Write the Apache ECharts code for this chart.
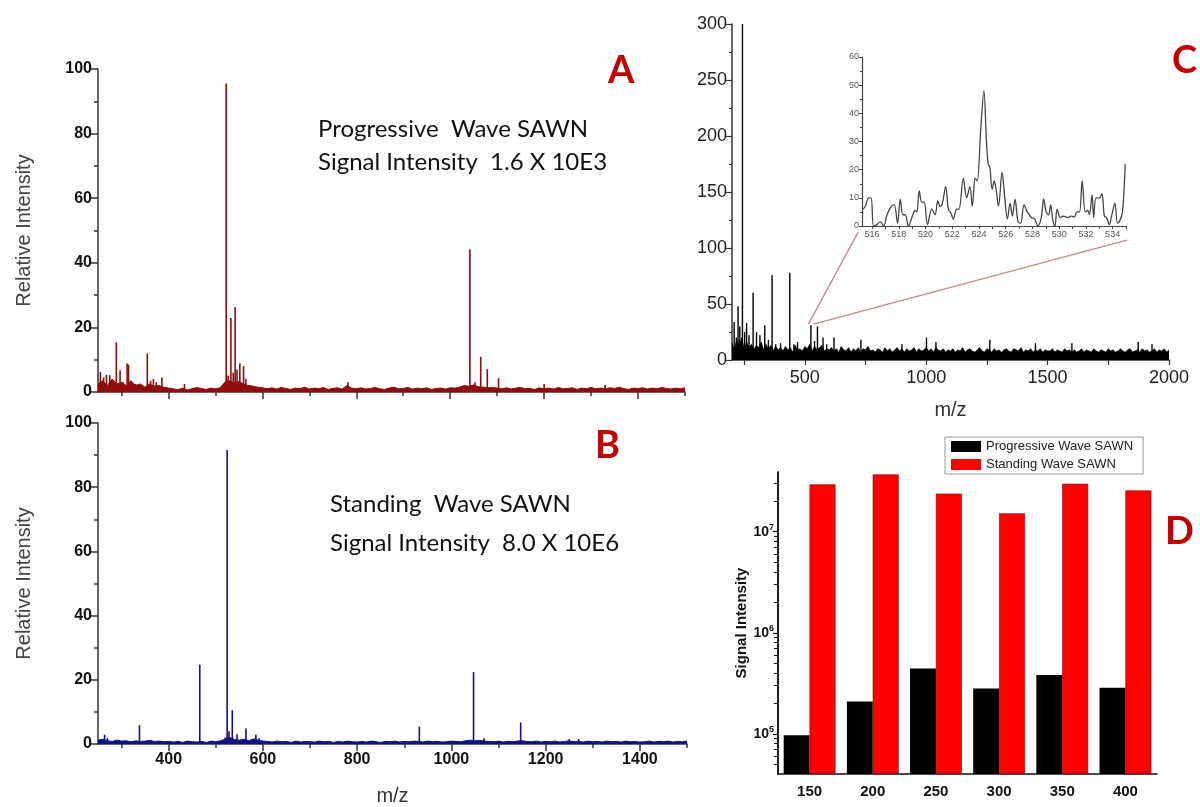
<!DOCTYPE html>
<html><head><meta charset="utf-8">
<script src="https://cdn.jsdelivr.net/npm/echarts@6/dist/echarts.min.js"></script>
<style>html,body{margin:0;padding:0;background:#fff}#c{width:1200px;height:807px}</style>
</head><body><div id="c"></div>
<script>
// ---------------- DATA ----------------
// Panel A (Progressive wave) – baseline read every 10 m/z from 250 to 1500
const aNoiseStart = 250, noiseStep = 10;
const aNoise = [2.5,3.5,2,4,2.5,3,2,3.5,2,2.5,1.5,2.5,1.8,2,1.5,1.2,
  1,0.7,1.2,0.6,1,1.4,1.1,0.8,1.2,1,1.3,
  3,3.5,2.8,3.2,2.5,2,1.8,1.5,1.3,
  1,1.3,0.9,1.4,1.1,0.8,1.2,1,1.5,0.9,
  1.2,1,1.4,0.8,1.1,1.3,0.9,2,1.2,1,
  1.3,0.9,1.1,1.4,1,0.8,1.2,1.5,1,1.1,
  1.4,0.9,1.2,1,1.3,0.8,1.1,1.2,0.9,1.3,
  1.2,1.5,2,1.8,2.2,1.6,1.5,1.3,1.4,1.2,
  1,1.3,0.9,1.2,1.4,1,1.1,0.8,1.3,1,
  1.2,0.9,1.4,1,1.1,1.3,0.8,1.2,1,1.4,
  1,1.2,0.9,1.3,1.1,1.5,1,0.8,1.2,1.1,
  1.3,0.9,1.2,1,1.4,1.1,0.9,1.2,1,1.3];
const aPeaks = [[255,6.2],[262,4.5],[268,5.3],[275,5.2],[282,3],[289,15.4],[297,6.7],[304,3],[312,8.8],[315,8.5],
  [330,2.5],[355,12],[362,3.5],[368,4],[374,3],[386,4.5],[434,2.5],[523,95.5],[527,5],[533,22.9],[538,6],
  [542,26.2],[546,7],[552,8.8],[560,8],[565,4],[575,2],[782,3],[1042,44.2],[1053,3],[1065,10.9],[1079,7.1],
  [1103,4.3],[1200,2.5],[1330,2.2]];
// Panel B (Standing wave)
const bNoise = [1.2,1.5,1,0.8,1.2,0.9,1,0.7,1,0.8,0.9,1.1,0.8,0.9,0.7,0.8,
  0.6,0.8,0.5,0.9,0.7,0.6,0.8,0.5,0.9,0.7,1,
  1.5,2,1.4,1.2,1.5,1,1.6,1.2,0.9,
  0.8,0.6,0.9,0.7,0.8,0.5,0.9,0.6,0.8,0.7,
  0.6,0.9,0.7,0.8,0.5,0.8,0.6,0.9,0.7,0.6,
  0.8,0.6,0.9,0.7,0.5,0.8,0.7,0.9,0.6,0.8,
  0.7,0.9,0.8,0.6,0.9,0.7,0.8,0.6,0.7,0.9,
  0.8,0.7,1,1.2,1,1.1,0.9,0.8,0.7,0.9,
  0.6,0.8,0.7,0.9,1,0.8,0.7,0.9,0.6,0.8,
  0.7,0.9,0.6,0.8,1,0.7,0.8,0.6,0.9,0.7,
  0.8,0.6,0.9,0.7,0.8,0.6,0.9,0.7,0.8,0.6,
  0.7,0.9,0.6,0.8,0.7,0.9,0.6,0.8,0.7,0.9];
const bPeaks = [[264,2.9],[270,1.8],[338,5.9],[466,24.7],[520,2],[524,91.6],[528,4],[535,10.5],[545,3],
  [564,4.8],[585,2.9],[592,1.8],[932,5.4],[1047,22.4],[1069,1.8],[1147,6.7],[1250,1.5],[1270,1.6]];
// Panel C – envelope of dense noise every 10 m/z from 200 to 2000, plus spikes
const cNoiseStart = 200;
const cNoise = [15,9,18,12,20,10,16,11,14,9,13,
  11,16,9,14,10,13,8,12,9,11,
  8,12,9,11,7,13,9,10,8,12,
  10,14,8,12,9,11,13,8,10,9,
  11,8,10,7,12,9,8,11,7,10,
  8,11,7,10,9,12,8,9,7,10,
  9,7,11,8,10,7,9,11,8,10,
  7,10,8,9,11,7,10,8,9,11,
  8,10,7,11,9,8,10,7,9,8,
  10,7,9,8,11,7,9,10,8,7,
  9,11,8,7,10,9,7,10,8,9,
  7,9,10,8,7,10,9,8,11,7,
  9,8,10,7,9,8,10,7,9,8,
  8,10,7,9,8,7,10,8,9,7,
  9,7,8,10,7,9,8,7,10,8,
  7,9,8,7,10,8,9,7,8,10,
  8,7,9,10,7,8,9,7,10,8,
  9,7,8,10,7,9,8,10,7,9];
const cPeaks = [[209,34],[218,20],[225,48],[232,30],[243,300],[252,25],[260,33],[270,22],[287,60],[301,25],
  [315,22],[335,31],[350,18],[365,76],[380,14],[400,15],[438,78],[455,14],[470,16],[525,31],[540,17],
  [552,30],[575,20],[590,14],[620,20],[731,18],[900,14],[1001,20],[1040,16],[1262,18],[1450,15],
  [1600,15],[1873,16],[1930,14]];
// zoom-region connector lines (C coordinates)
const zoomLinkLeft = [[515,32],[719,114]];
const zoomLinkRight = [[535,32],[1827,107]];
// Inset (515–535)
const insetMz = [515.33,515.5,515.75,515.93,516.12,516.37,516.62,516.87,517.12,517.44,517.66,517.91,518.11,518.31,
  518.48,518.73,518.98,519.23,519.35,519.53,519.72,519.9,520.15,520.47,520.72,520.92,521.09,521.26,521.51,521.71,
  521.91,522.08,522.33,522.5,522.83,523.08,523.32,523.5,523.72,523.87,524.14,524.37,524.56,524.69,524.81,524.99,
  525.14,525.31,525.46,525.73,525.93,526.13,526.33,526.5,526.7,526.92,527.12,527.37,527.62,527.92,528.16,528.41,
  528.66,528.84,529.03,529.21,529.36,529.53,529.68,529.85,530.08,530.32,530.65,530.9,531.14,531.32,531.52,531.72,
  531.96,532.14,532.26,532.46,532.58,532.76,533.01,533.2,533.38,533.55,533.75,533.92,534.17,534.37,534.55,534.74,534.94];
const insetInt = [6,7,10,10,0,0.5,1.5,0,4,7,7.5,1,9.5,4,4,0,3,5.5,5,12.5,8.5,8.5,0.5,6,4,9,7,8,14,6,4.5,2.5,6,6,17,10,
  14,7,17,16,35,48,30,22,21,13,16,12,7,19,10,2.5,8,3.5,9.5,1.5,1,7.5,5,3,2.5,0,3,9.5,5,4,7.5,2,0,6,3,3.5,3,3.5,3.2,
  5,5,16,5,5.5,4,11,3,10,10,11.5,3.5,3,0.5,3.5,8,1,2,5,22];
// Panel D
const dCategories = ['150','200','250','300','350','400'];
const progressive = [97000,209000,444000,281000,381000,285000];
const standing = [29400000,36900000,23800000,15200000,29800000,25600000];
const seriesNames = ['Progressive Wave SAWN','Standing Wave SAWN'];

// --------------- CHART ----------------
const F = '"Liberation Sans", Arial, sans-serif';
const CAL = 'Lato, "Noto Sans", sans-serif';
const RED_LABEL = '#c00000';
const aColor = '#8e0c0c', bColor = '#12127f';
const plain = v => String(v);

function grid(pts0, start, step) { return pts0.map((v, i) => [start + i * step, v]); }

const abMajor = [400,600,800,1000,1200,1400];
const abMinor = [300,500,700,900,1100,1300,1500];
const axisLn = {lineStyle:{color:'#333', width:1.5}};

function abX(gi, labels) {
  return [{
    gridIndex: gi, type:'value', min:250, max:1500, position:'bottom',
    axisLine: axisLn,
    axisTick: {customValues: abMajor, length: 7, lineStyle:{color:'#333', width:1.5}},
    axisLabel: labels ? {customValues: abMajor, formatter: plain, fontFamily:F, fontWeight:'bold', fontSize:16, color:'#111', margin:8} : {show:false},
    splitLine:{show:false},
    name: labels ? 'm/z' : '', nameLocation:'middle', nameGap:42,
    nameTextStyle:{fontFamily:F, fontSize:20, color:'#333'}
  },{
    gridIndex: gi, type:'value', min:250, max:1500, position:'bottom',
    axisLine:{show:false},
    axisTick:{customValues: abMinor, length:4, lineStyle:{color:'#333', width:1.5}},
    axisLabel:{show:false}, splitLine:{show:false}
  }];
}
function abY(gi) {
  return {
    gridIndex: gi, type:'value', min:0, max:100, interval:20, position:'left',
    axisLine:{show:true, lineStyle:{color:'#333', width:1.5}},
    axisTick:{show:true, length:7, lineStyle:{color:'#333', width:1.5}},
    minorTick:{show:true, splitNumber:2, length:4, lineStyle:{color:'#333', width:1.5}},
    axisLabel:{fontFamily:F, fontWeight:'bold', fontSize:16, color:'#111', margin:6},
    splitLine:{show:false},
    name:'Relative Intensity', nameLocation:'middle', nameGap:64,
    nameTextStyle:{fontFamily:F, fontSize:20, color:'#444'}
  };
}
const logMinor = [];
[[5,6,7,8,9],[2,3,4,5,6,7,8,9],[2,3,4,5,6,7,8,9],[2,3]].forEach((arr, k) => {
  arr.forEach(m => logMinor.push(m * Math.pow(10, 4 + k)));
});
const insetTicks = [];
for (let t = 516; t <= 535; t++) insetTicks.push(t);

const option = {
  animation: false,
  backgroundColor: '#fff',
  grid: [
    {left:98, top:69, width:587, height:323},
    {left:98, top:423, width:589, height:324},
    {left:732, top:24, width:437, height:336},
    {left:862, top:57, width:264, height:169},
    {left:778, top:472, width:379, height:302}
  ],
  legend: {
    data: seriesNames, orient:'vertical', left:945, top:437,
    itemWidth:30, itemHeight:11, itemGap:5, icon:'rect',
    borderColor:'#999', borderWidth:1, padding:[3,10,3,6],
    textStyle:{fontFamily:F, fontSize:13, color:'#222'},
    itemStyle:{borderWidth:0}
  },
  xAxis: [
    ...abX(0, false),
    ...abX(1, true),
    { gridIndex:2, type:'value', min:200, max:2000, position:'bottom',
      axisLine:axisLn,
      axisTick:{customValues:[250,500,750,1000,1250,1500,1750,2000], length:5, lineStyle:{color:'#333', width:1.2}},
      axisLabel:{customValues:[500,1000,1500,2000], formatter: plain, fontFamily:F, fontSize:18, color:'#222', margin:9},
      splitLine:{show:false},
      name:'m/z', nameLocation:'middle', nameGap:40, nameTextStyle:{fontFamily:F, fontSize:20, color:'#333'} },
    { gridIndex:3, type:'value', min:515.25, max:535, position:'bottom',
      axisLine:{lineStyle:{color:'#444', width:1.2}},
      axisTick:{customValues:insetTicks, length:3, lineStyle:{color:'#444'}},
      axisLabel:{customValues:[516,518,520,522,524,526,528,530,532,534], formatter: plain, fontFamily:F, fontSize:9, color:'#555', margin:4},
      splitLine:{show:false} },
    { gridIndex:4, type:'category', data:dCategories, position:'bottom',
      axisLine:{lineStyle:{color:'#111', width:1.5}},
      axisTick:{show:false},
      axisLabel:{fontFamily:F, fontWeight:'bold', fontSize:15, color:'#111', margin:10} }
  ],
  yAxis: [
    abY(0), abY(1),
    { gridIndex:2, type:'value', min:0, max:300, interval:50, position:'left',
      axisLine:{show:true, lineStyle:{color:'#333', width:1.5}},
      axisTick:{show:true, length:6, lineStyle:{color:'#333', width:1.2}},
      minorTick:{show:true, splitNumber:2, length:3, lineStyle:{color:'#333'}},
      axisLabel:{fontFamily:F, fontSize:18, color:'#222', margin:5},
      splitLine:{show:false} },
    { gridIndex:3, type:'value', min:0, max:60, interval:10, position:'left',
      axisLine:{show:true, lineStyle:{color:'#444', width:1.2}},
      axisTick:{show:true, length:3, lineStyle:{color:'#444'}},
      minorTick:{show:true, splitNumber:2, length:2, lineStyle:{color:'#444'}},
      axisLabel:{fontFamily:F, fontSize:9, color:'#555', margin:3},
      splitLine:{show:false} },
    { gridIndex:4, type:'log', logBase:10, min:40000, max:39000000, startValue:40000, position:'left',
      axisLine:{show:true, lineStyle:{color:'#111', width:1.5}},
      axisTick:{show:true, customValues:[1e5,1e6,1e7], length:5, lineStyle:{color:'#111', width:1.2}},
      axisLabel:{customValues:[1e5,1e6,1e7], margin:4,
        formatter: v => '{b|10}{s|' + Math.round(Math.log10(v)) + '}',
        rich:{ b:{fontFamily:F, fontWeight:'bold', fontSize:14, color:'#111'},
               s:{fontFamily:F, fontWeight:'bold', fontSize:9, color:'#111', padding:[0,0,8,0]} } },
      splitLine:{show:false},
      name:'Signal Intensity', nameLocation:'middle', nameGap:28,
      nameTextStyle:{fontFamily:F, fontWeight:'bold', fontSize:15, color:'#111'} },
    { gridIndex:4, type:'log', logBase:10, min:40000, max:39000000, position:'left', offset:0,
      axisLine:{show:true, lineStyle:{color:'#111', width:1.5}},
      axisTick:{show:true, customValues:logMinor, length:4, lineStyle:{color:'#111', width:1}},
      axisLabel:{show:false}, splitLine:{show:false} }
  ],
  series: [
    { type:'line', xAxisIndex:0, yAxisIndex:0, data:grid(aNoise, aNoiseStart, noiseStep),
      showSymbol:false, lineStyle:{color:aColor, width:1}, areaStyle:{color:aColor, opacity:1}, silent:true },
    { type:'bar', xAxisIndex:0, yAxisIndex:0, data:aPeaks, barWidth:1.6, itemStyle:{color:aColor}, silent:true },
    { type:'line', xAxisIndex:2, yAxisIndex:1, data:grid(bNoise, aNoiseStart, noiseStep),
      showSymbol:false, lineStyle:{color:bColor, width:1}, areaStyle:{color:bColor, opacity:1}, silent:true },
    { type:'bar', xAxisIndex:2, yAxisIndex:1, data:bPeaks, barWidth:1.6, itemStyle:{color:bColor}, silent:true },
    { type:'line', xAxisIndex:4, yAxisIndex:2, data:grid(cNoise, cNoiseStart, noiseStep),
      showSymbol:false, lineStyle:{color:'#000', width:0.8}, areaStyle:{color:'#000', opacity:1}, silent:true },
    { type:'bar', xAxisIndex:4, yAxisIndex:2, data:cPeaks, barWidth:1.4, itemStyle:{color:'#000'}, silent:true },
    { type:'line', xAxisIndex:4, yAxisIndex:2, data:zoomLinkLeft, showSymbol:false,
      lineStyle:{color:'#c28a8a', width:1.3}, silent:true, clip:false },
    { type:'line', xAxisIndex:4, yAxisIndex:2, data:zoomLinkRight, showSymbol:false,
      lineStyle:{color:'#c28a8a', width:1.3}, silent:true, clip:false },
    { type:'line', xAxisIndex:5, yAxisIndex:3, data:insetMz.map((m, i) => [m, insetInt[i]]),
      showSymbol:false, smooth:0.35, lineStyle:{color:'#444', width:1.3}, silent:true },
    { name:seriesNames[0], type:'bar', xAxisIndex:6, yAxisIndex:4, data:progressive, barGap:'0%', barCategoryGap:'18%',
      itemStyle:{color:'#000'}, clip:true },
    { name:seriesNames[1], type:'bar', xAxisIndex:6, yAxisIndex:4, data:standing, barGap:'0%', barCategoryGap:'18%',
      itemStyle:{color:'#ff0000', borderColor:'#7a0000', borderWidth:0.6}, clip:true }
  ],
  graphic: [
    {type:'text', left:318, top:117, style:{text:'Progressive  Wave SAWN', font:'24px ' + CAL, fill:'#111'}},
    {type:'text', left:318, top:150, style:{text:'Signal Intensity  1.6 X 10E3', font:'24px ' + CAL, fill:'#111'}},
    {type:'text', left:330, top:492, style:{text:'Standing  Wave SAWN', font:'24px ' + CAL, fill:'#111'}},
    {type:'text', left:330, top:531, style:{text:'Signal Intensity  8.0 X 10E6', font:'24px ' + CAL, fill:'#111'}},
    {type:'text', left:608, top:52, style:{text:'A', font:'bold 38px ' + CAL, fill:RED_LABEL}},
    {type:'text', left:595, top:427, style:{text:'B', font:'bold 38px ' + CAL, fill:RED_LABEL}},
    {type:'text', left:1172, top:42, style:{text:'C', font:'bold 38px ' + CAL, fill:RED_LABEL}},
    {type:'text', left:1165, top:513, style:{text:'D', font:'bold 38px ' + CAL, fill:RED_LABEL}}
  ]
};
const chart = echarts.init(document.getElementById('c'));
chart.setOption(option);
</script>
</body></html>
